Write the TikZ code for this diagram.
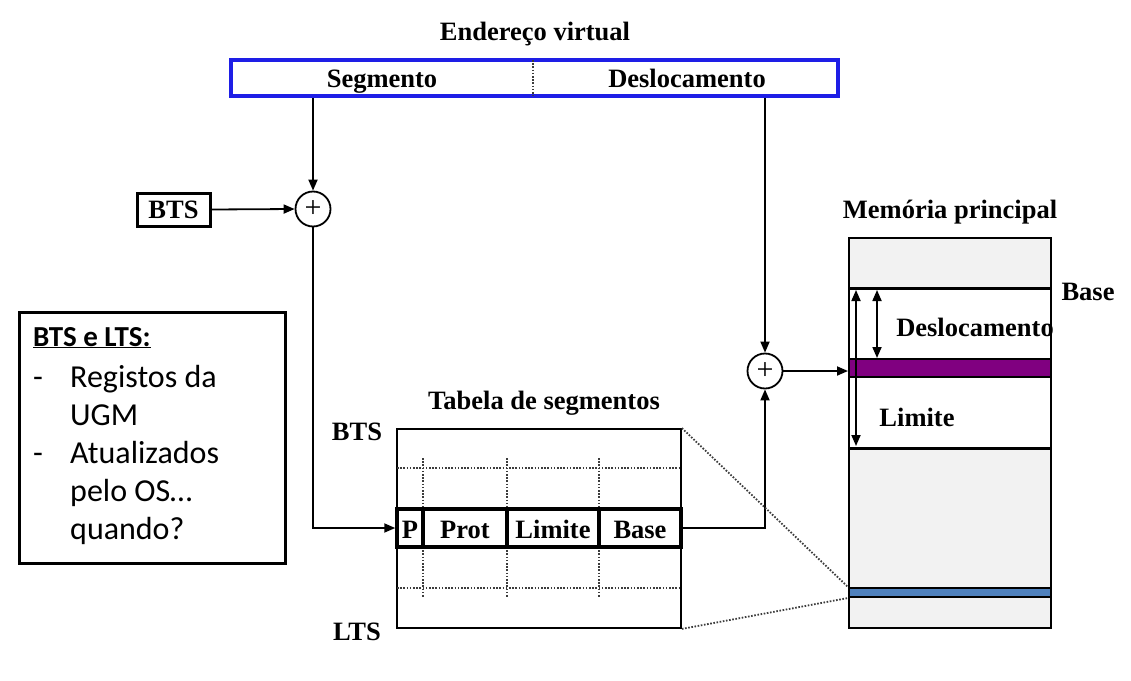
\documentclass[tikz,border=0pt]{standalone}
\usepackage{fontspec}
\setmainfont{Liberation Serif}
\newfontfamily\calib{Carlito}
\usetikzlibrary{arrows.meta,calc}
\definecolor{vblue}{RGB}{30,30,230}
\definecolor{memgray}{RGB}{242,242,242}
\definecolor{purp}{RGB}{128,0,128}
\definecolor{bbar}{RGB}{79,129,189}
\definecolor{dotc}{RGB}{60,60,60}
\begin{document}
\begin{tikzpicture}[x=1pt,y=-1pt,
  lbl/.style={font=\fontsize{26.5}{30}\selectfont\bfseries, inner sep=0},
  arr/.style={-{Triangle[length=11pt,width=9pt]}, line width=1.8},
  darr/.style={{Triangle[length=11pt,width=9pt]}-{Triangle[length=11pt,width=9pt]}, line width=1.8},
  plusc/.style={circle, draw, line width=1.8, minimum size=35, inner sep=0, font=\fontsize{30}{30}\selectfont},
  dotl/.style={dotc, line width=1.8, dash pattern=on 1.6pt off 1.6pt},
  note/.style={font=\calib\fontsize{32}{38}\selectfont, inner sep=0, anchor=base west}]
\useasboundingbox (0,0) rectangle (1131,680);

% virtual address
\node[lbl, anchor=base] (vtitle) at (535,40) {Endereço virtual};
\node[draw=vblue, line width=3.5, minimum width=607, minimum height=36, inner sep=0] (va) at (534.5,78) {};
\draw[dotl] (533,60) -- (533,96);
\node[lbl, anchor=base] (seg) at (382,87) {Segmento};
\node[lbl, anchor=base] (desl) at (687,87) {Deslocamento};

% adders
\node[plusc] (p1) at (313,209) {+};
\node[plusc] (p2) at (765,371) {+};
\node[draw, line width=3, minimum width=73, minimum height=33, lbl, text height=17, text depth=0] (bts) at (173.5,209.5) {BTS};

\draw[arr] (va.south -| p1) -- (p1.north);
\draw[arr] (va.south -| p2) -- (p2.north);
\draw[arr] (bts.east) -- (p1.west);

% segment table
\node[lbl, anchor=base] (ttitle) at (544,409) {Tabela de segmentos};
\node[draw, line width=1.8, minimum width=284, minimum height=199, inner sep=0] (tab) at (539,528.5) {};
\node[lbl, anchor=base] (btsl) at (357,440) {BTS};
\node[lbl, anchor=base] (ltsl) at (357,640) {LTS};
\draw[dotl] (397,468) -- (681,468);
\draw[dotl] (397,588) -- (681,588);
\foreach \x in {423,507,599} {
  \draw[dotl] (\x,458) -- (\x,509);
  \draw[dotl] (\x,547) -- (\x,597);
}
\node[draw, line width=3.5, minimum width=284, minimum height=38, inner sep=0] (row) at (539,528) {};
\foreach \x in {423,507,599} \draw[line width=3.5] (\x,509) -- (\x,547);
\node[lbl, anchor=base] (cp) at (410,538) {P};
\node[lbl, anchor=base] (cprot) at (465,538) {Prot};
\node[lbl, anchor=base] (clim) at (553,538) {Limite};
\node[lbl, anchor=base] (cbase) at (640,538) {Base};

\draw[arr] (p1.south) |- (row.west);
\draw[arr] (row.east) -| (p2.south);

% main memory
\node[lbl, anchor=base] (mtitle) at (950,218) {Memória principal};
\fill[memgray] (849,238) rectangle (1051,628);
\fill[white] (849,288) rectangle (1051,448);
\node[draw, line width=1.8, minimum width=202, minimum height=390, inner sep=0] (mem) at (950,433) {};
\draw[line width=3] (849,288) -- (1051,288);
\draw[line width=3] (849,448) -- (1051,448);
\node[draw, line width=2, fill=purp, minimum width=202, minimum height=18, inner sep=0] (pb) at (950,368) {};
\node[draw, line width=2, fill=bbar, minimum width=202, minimum height=9, inner sep=0] (bb) at (950,592.5) {};
\draw[darr] (856,290) -- (856,446);
\draw[darr] (877,290) -- (pb.north -| 877,0);
\node[lbl, anchor=base] (mbase) at (1088,300) {Base};
\node[lbl, anchor=base] (mdesl) at (975,336) {Deslocamento};
\node[lbl, anchor=base] (mlim) at (917,426) {Limite};

\draw[arr] (p2.east) -- (p2.east -| pb.west);
\draw[dotl] (tab.north east) -- (bb.north west);
\draw[dotl] (tab.south east) -- (bb.south west);

% note box
\node[draw, line width=3, minimum width=266, minimum height=251, inner sep=0] (nbox) at (152,437.5) {};
\node[font=\calib\fontsize{29}{34}\selectfont\bfseries, inner sep=0, anchor=base west] (nh) at (33,346) {\underline{BTS e LTS:}};
\node[note] (d1) at (33,387) {-};
\node[note] (t1) at (70,387) {Registos da};
\node[note] (t2) at (70,425) {UGM};
\node[note] (d2) at (33,463) {-};
\node[note] (t3) at (70,463) {Atualizados};
\node[note] (t4) at (70,501) {pelo OS…};
\node[note] (t5) at (70,539) {quando?};
\end{tikzpicture}
\end{document}
